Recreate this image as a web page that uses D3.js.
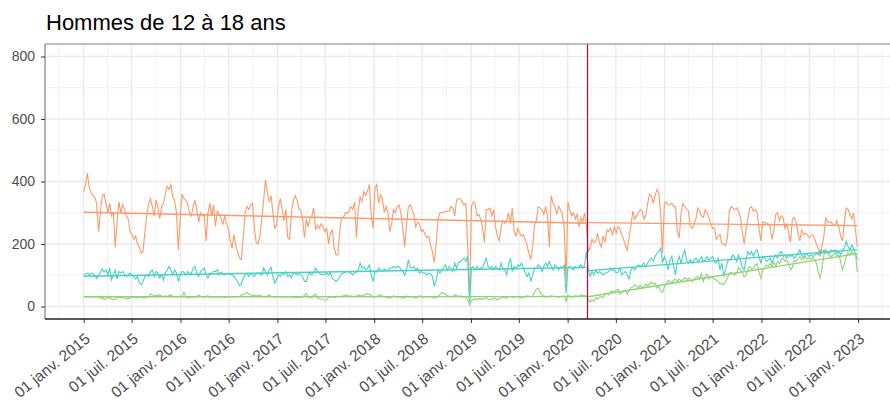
<!DOCTYPE html>
<html>
<head>
<meta charset="utf-8">
<title>Hommes de 12 à 18 ans</title>
<style>
  body { margin: 0; background: #fff; }
  text { font-family: "Liberation Sans", Arial, sans-serif; }
</style>
</head>
<body>
<script src="https://cdnjs.cloudflare.com/ajax/libs/d3/7.8.5/d3.min.js"></script>
<script>
// weekly counts, first week = 1 jan 2015
const orange = [
  368,390,427,380,365,355,350,330,240,300, 355,360,330,300,330,290,300,190,270,335,
  300,325,310,290,280,240,230,215,225,200, 190,170,175,240,290,330,345,320,290,340,
  320,280,320,330,360,385,375,390,350,340, 300,180,280,360,345,340,330,300,290,320,
  340,310,270,300,290,295,210,300,330,290, 325,256,305,295,285,262,290,265,250,210,
  187,230,195,175,155,150,220,300,320,310, 325,330,250,205,200,225,280,340,405,365,
  335,355,300,250,260,320,345,310,275,310, 220,215,300,340,355,340,315,305,280,220,
  280,255,280,290,315,245,260,250,265,255, 240,250,200,235,245,190,165,165,240,285,
  285,300,298,305,320,310,335,220,310,350, 335,368,355,370,390,290,250,380,390,330,
  357,345,300,320,300,240,265,310,300,320, 325,300,250,190,260,320,325,310,295,255,
  270,265,240,245,230,220,225,195,175,140, 200,280,300,300,300,305,305,305,320,315,
  290,340,345,345,335,325,330,190,25,320,  335,330,290,295,280,250,205,310,310,315,
  290,310,255,225,210,255,275,265,275,300, 265,315,240,225,250,235,225,230,215,195,
  170,150,190,260,275,320,315,310,295,320, 290,190,355,330,320,295,320,310,295,255,
  80,335,310,290,300,280,295,255,285,270,  300,260,175,190,215,205,210,235,205,190,
  225,205,245,240,250,230,255,235,255,250, 230,215,195,180,220,260,305,280,290,300,
  310,305,280,290,330,360,355,330,355,375, 365,295,170,330,335,325,325,330,320,320,
  240,220,300,330,320,310,305,255,250,265, 280,315,305,290,285,310,300,285,265,250,
  250,215,225,230,200,200,195,220,305,320, 315,310,315,305,285,240,200,245,280,315,
  320,305,310,300,250,210,270,270,265,265, 255,215,240,295,300,275,290,285,250,265,
  235,205,280,285,270,235,210,245,230,235, 230,220,225,230,215,200,185,160,195,225,
  285,270,270,270,260,260,275,255,225,210, 270,315,310,295,280,300,245,190
];
const teal = [
  101,104,107,101,107,104,101,90,100,110, 120,110,117,101,123,85,101,117,88,112,
  107,112,104,96,101,107,101,96,88,96,     75,69,80,96,101,96,112,117,96,112,
  107,91,101,85,107,117,128,117,101,117,   107,80,101,112,110,101,112,107,104,123,
  128,107,96,112,117,123,101,91,107,104,   112,112,117,101,110,104,101,104,107,101,
  101,96,88,80,66,72,91,101,107,96,        107,101,96,104,107,104,101,123,112,101,
  117,125,96,75,88,101,96,107,101,112,     96,101,91,107,107,101,107,101,96,80,
  80,101,107,101,107,123,112,107,101,104,  101,107,101,107,91,85,80,85,95,104,
  107,110,112,110,107,101,107,110,117,139, 123,128,117,123,133,100,80,112,110,123,
  117,112,120,117,115,123,123,128,123,128, 128,120,112,100,117,149,125,123,128,117,
  123,107,112,107,107,101,107,104,96,64,   85,117,107,115,125,133,117,128,123,112,
  139,123,139,144,149,155,144,160,15,123,  128,117,128,117,123,125,140,155,128,123,
  128,117,128,123,117,139,120,117,101,133, 155,112,128,120,133,128,139,123,107,96,
  107,80,101,120,123,133,128,112,128,139,  128,144,128,117,133,128,117,128,123,133,
  43,123,128,123,117,128,123,128,133,123,  133,176,117,96,112,101,117,107,112,107,
  101,107,107,112,123,115,117,107,110,123, 101,107,112,101,88,117,125,117,128,133,
  128,133,139,128,139,149,155,144,160,170, 176,187,140,160,144,117,149,160,128,101,
  144,160,139,165,181,149,139,149,139,149, 155,144,149,160,144,149,160,149,155,160,
  144,139,155,117,139,96,117,144,149,155,  165,155,144,165,149,125,117,149,176,165,
  176,160,176,181,160,140,160,155,144,149, 155,139,155,165,155,170,176,160,165,155,
  165,160,165,155,160,170,181,165,155,170, 165,160,165,160,165,170,165,181,170,181,
  170,176,170,181,176,181,170,176,165,181, 186,210,192,181,197,186,170,150
];
const green = [
  32,31,30,32,31,32,30,32,33,26, 28,22,24,30,27,24,21,24,27,29,
  30,28,27,26,24,27,28,32,30,27, 31,30,28,27,32,30,40,37,35,34,
  36,37,33,32,34,32,35,37,33,32, 30,31,33,31,45,33,28,27,32,31,
  30,32,37,33,32,30,33,34,30,31, 32,30,33,30,32,31,28,29,33,31,
  30,32,31,32,33,36,38,42,45,40, 37,33,37,35,34,36,33,32,30,34,
  37,33,32,30,31,32,31,30,32,31, 30,31,32,30,29,28,30,30,32,35,
  42,30,28,30,36,40,28,25,24,23, 21,20,29,31,32,28,30,33,32,33,
  34,36,37,32,34,31,33,32,37,35, 34,36,40,41,38,37,30,32,31,36,
  37,32,31,30,29,27,30,34,32,30, 31,30,27,28,34,30,31,32,30,27,
  29,34,33,30,31,32,30,31,30,27, 29,32,37,45,42,40,35,33,31,32,
  37,35,32,34,30,31,32,22,5,20,  22,25,21,26,23,25,24,29,23,21,
  26,23,26,21,26,27,30,28,27,30, 33,30,28,31,32,29,27,30,31,34,
  33,32,34,45,55,59,45,37,34,30, 31,32,34,33,32,31,30,31,33,34,
  16,37,32,30,31,34,33,32,37,34, 36,32,22,14,21,16,27,24,30,32,
  28,40,43,37,48,50,45,52,55,40, 43,48,53,40,50,60,62,69,65,59,
  69,59,64,72,66,72,78,72,75,59, 64,50,45,62,72,83,80,75,84,88,
  80,88,83,85,93,86,91,85,80,86, 94,96,88,105,80,96,104,88,95,91,
  88,85,80,72,75,69,80,91,106,110, 105,100,107,125,117,110,95,100,117,128,
  120,122,133,137,110,90,115,125,133,128, 137,126,142,128,145,137,149,155,144,149,
  137,117,125,147,144,152,160,149,155,160, 152,155,151,158,149,139,107,91,125,165,
  182,170,163,160,165,171,162,165,144,118, 135,160,172,165,176,165,171,110
];

const yTicks = [0, 200, 400, 600, 800];
const tickLabels = [
  "01 janv. 2015", "01 juil. 2015", "01 janv. 2016", "01 juil. 2016",
  "01 janv. 2017", "01 juil. 2017", "01 janv. 2018", "01 juil. 2018",
  "01 janv. 2019", "01 juil. 2019", "01 janv. 2020", "01 juil. 2020",
  "01 janv. 2021", "01 juil. 2021", "01 janv. 2022", "01 juil. 2022",
  "01 janv. 2023"
];

const width = 890, height = 401;
const pLeft = 45, pRight = 896, pTop = 44, pBottom = 319;

const start = new Date(2015, 0, 1);
const cut = new Date(2020, 2, 16);   // confinement
const dates = d3.range(orange.length).map(i => d3.timeDay.offset(start, 7 * i));
const tickDates = d3.timeMonth.range(new Date(2015, 0, 1), new Date(2023, 0, 2), 6);
const minorDates = d3.timeMonth.range(new Date(2014, 9, 1), new Date(2023, 4, 1), 6);

const series = [
  { values: orange, color: "#fc9a6a" },
  { values: teal,   color: "#45d1c4" },
  { values: green,  color: "#93d27a" }
];

// ggplot-ish 5% expansion
const span = dates[dates.length - 1] - dates[0];
const x = d3.scaleTime()
  .domain([new Date(+dates[0] - span * 0.05), new Date(+dates[dates.length - 1] + span * 0.05)])
  .range([pLeft, pRight]);
const y = d3.scaleLinear().domain([-40, 840]).range([pBottom, pTop]);

const svg = d3.select("body").append("svg")
  .attr("width", width)
  .attr("height", height);

svg.append("text")
  .attr("x", 46)
  .attr("y", 29.5)
  .attr("font-size", 22)
  .attr("fill", "#000")
  .text("Hommes de 12 à 18 ans");

svg.append("clipPath").attr("id", "panel")
  .append("rect").attr("x", pLeft).attr("y", pTop)
  .attr("width", pRight - pLeft).attr("height", pBottom - pTop);

const panel = svg.append("g").attr("clip-path", "url(#panel)");

// grid
panel.selectAll(".ygmin").data([100, 300, 500, 700]).enter().append("line")
  .attr("x1", pLeft).attr("x2", pRight)
  .attr("y1", d => y(d)).attr("y2", d => y(d))
  .attr("stroke", "#f3f3f3").attr("stroke-width", 1);
panel.selectAll(".xgmin").data(minorDates).enter().append("line")
  .attr("x1", d => x(d)).attr("x2", d => x(d))
  .attr("y1", pTop).attr("y2", pBottom)
  .attr("stroke", "#f3f3f3").attr("stroke-width", 1);
panel.selectAll(".ygmaj").data(yTicks).enter().append("line")
  .attr("x1", pLeft).attr("x2", pRight)
  .attr("y1", d => y(d)).attr("y2", d => y(d))
  .attr("stroke", "#ebebeb").attr("stroke-width", 1.4);
panel.selectAll(".xgmaj").data(tickDates).enter().append("line")
  .attr("x1", d => x(d)).attr("x2", d => x(d))
  .attr("y1", pTop).attr("y2", pBottom)
  .attr("stroke", "#ebebeb").attr("stroke-width", 1.4);

// raw weekly lines
const line = d3.line().x((d, i) => x(dates[i])).y(d => y(d));
series.forEach(s => {
  panel.append("path")
    .attr("d", line(s.values))
    .attr("fill", "none")
    .attr("stroke", s.color)
    .attr("stroke-width", 1.1);
});

// linear trend before / after the cut
function fit(idx, vals) {
  const xs = idx.map(i => +dates[i]), ys = idx.map(i => vals[i]);
  const mx = d3.mean(xs), my = d3.mean(ys);
  const b = d3.sum(xs, (v, k) => (v - mx) * (ys[k] - my)) / d3.sum(xs, v => (v - mx) ** 2);
  const a = my - b * mx;
  const x0 = xs[0], x1 = xs[xs.length - 1];
  return [[x0, a + b * x0], [x1, a + b * x1]];
}
const pre = d3.range(dates.length).filter(i => dates[i] < cut);
const post = d3.range(dates.length).filter(i => dates[i] >= cut);
series.forEach(s => {
  [pre, post].forEach(idx => {
    const seg = fit(idx, s.values);
    panel.append("line")
      .attr("x1", x(seg[0][0])).attr("y1", y(seg[0][1]))
      .attr("x2", x(seg[1][0])).attr("y2", y(seg[1][1]))
      .attr("stroke", s.color)
      .attr("stroke-width", 1.4);
  });
});

panel.append("line")
  .attr("x1", x(cut)).attr("x2", x(cut))
  .attr("y1", pTop).attr("y2", pBottom)
  .attr("stroke", "#c0003f").attr("stroke-width", 1.2);

// border (right side falls outside the picture)
svg.append("line").attr("x1", pLeft).attr("x2", pRight).attr("y1", pTop).attr("y2", pTop)
  .attr("stroke", "#7f7f7f").attr("stroke-width", 1.2);
svg.append("line").attr("x1", pLeft).attr("x2", pLeft).attr("y1", pTop).attr("y2", pBottom)
  .attr("stroke", "#7f7f7f").attr("stroke-width", 1.2);

// axes
const yAxis = svg.append("g")
  .attr("transform", `translate(${pLeft},0)`)
  .call(d3.axisLeft(y).tickValues(yTicks).tickSize(4).tickPadding(6));
yAxis.select(".domain").remove();
yAxis.selectAll("line").attr("stroke", "#333");
yAxis.selectAll("text").attr("font-size", 14).attr("fill", "#4d4d4d")
  .attr("font-family", "'Liberation Sans', Arial, sans-serif");

const xAxis = svg.append("g")
  .attr("transform", `translate(0,${pBottom})`)
  .call(d3.axisBottom(x).tickValues(tickDates).tickFormat((d, i) => tickLabels[i]).tickSize(4));
xAxis.select(".domain").remove();
xAxis.selectAll("line").attr("stroke", "#333");
xAxis.selectAll("text")
  .attr("font-size", 15.5).attr("fill", "#4d4d4d")
  .attr("font-family", "'Liberation Sans', Arial, sans-serif")
  .attr("text-anchor", "end")
  .attr("x", 0).attr("y", 0).attr("dy", "0.71em")
  .attr("transform", "translate(0,13) rotate(-39)");

svg.append("line").attr("x1", pLeft).attr("x2", width).attr("y1", pBottom).attr("y2", pBottom)
  .attr("stroke", "#222").attr("stroke-width", 1.4);
</script>
</body>
</html>
